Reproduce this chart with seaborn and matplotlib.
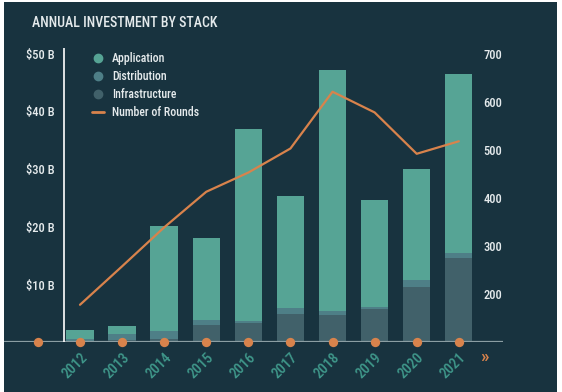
import matplotlib.pyplot as plt
import pandas as pd
import seaborn as sns
from matplotlib.lines import Line2D
from matplotlib.patches import Rectangle

# Investment by stack, in $B
years = [2012, 2013, 2014, 2015, 2016, 2017, 2018, 2019, 2020, 2021]
infrastructure = [0.1, 0.4, 0.6, 3.0, 3.3, 4.9, 4.8, 5.8, 9.5, 14.6]
distribution = [0.4, 1.0, 1.4, 0.9, 0.4, 1.1, 0.7, 0.4, 1.3, 0.9]
application = [1.6, 1.5, 18.2, 14.1, 33.3, 19.4, 41.7, 18.5, 19.3, 31.0]
rounds = [178, 258, 339, 413, 453, 503, 621, 578, 492, 518]

left_ticks = [10, 20, 30, 40, 50]
left_labels = ["$10 B", "$20 B", "$30 B", "$40 B", "$50 B"]
right_ticks = [200, 300, 400, 500, 600, 700]

bg = "#18333f"
app_color = "#56a495"
dist_color = "#4e7f87"
infra_color = "#41616a"
orange = "#d8834c"
teal_text = "#3f978a"
light = "#e4eaec"

sns.set_theme(style="white")
plt.rcParams["font.family"] = ["Roboto Condensed", "Roboto", "DejaVu Sans"]
plt.rcParams["font.weight"] = "medium"

df = pd.DataFrame({
    "year": years,
    "infra": infrastructure,
    "dist": distribution,
    "app": application,
    "rounds": rounds,
})
df["dist_top"] = df["infra"] + df["dist"]
df["total"] = df["dist_top"] + df["app"]

fig = plt.figure(figsize=(5.62, 3.92), dpi=100, facecolor="white")
fig.patches.append(Rectangle((4 / 562, 0), 553 / 562, 1 - 2 / 392,
                             transform=fig.transFigure, facecolor=bg,
                             edgecolor="none", zorder=-10))

ax = fig.add_axes([0.0064, 0.1268, 0.8886, 0.7508])
ax.set_facecolor("none")

# stacked bars drawn as overlapping cumulative totals
for col, c in [("total", app_color), ("dist_top", dist_color), ("infra", infra_color)]:
    sns.barplot(data=df, x="year", y=col, native_scale=True, color=c,
                saturation=1, width=0.65, linewidth=0, errorbar=None, ax=ax)

ax.axhline(0, color="#8b9ea3", lw=1.6, zorder=3)
ax.axvline(years[0] - 0.38, ymin=0, ymax=1, color="white", lw=1.2, zorder=3)

dots = pd.DataFrame({"year": [years[0] - 1] + years})
dots["y"] = 0
sns.scatterplot(data=dots, x="year", y="y", color=orange, s=45, linewidth=0,
                zorder=6, clip_on=False, ax=ax)

ax.set_xlim(years[0] - 1.815, years[-1] + 1.05)
ax.set_ylim(0, 51)
ax.set_xticks(years)
ax.set_xticklabels([str(y) for y in years], rotation=45, ha="right",
                   rotation_mode="anchor", fontsize=10.5, color=teal_text)
ax.set_yticks(left_ticks)
ax.set_yticklabels(left_labels, fontsize=9, color=light)
ax.tick_params(axis="x", length=0, pad=6)
ax.tick_params(axis="y", length=0, pad=-37)
ax.set_xlabel("")
ax.set_ylabel("")
for s in ax.spines.values():
    s.set_visible(False)

ax2 = ax.twinx()
sns.lineplot(data=df, x="year", y="rounds", color=orange, linewidth=1.6, ax=ax2)
ax2.set_ylim(100, 712)
ax2.set_yticks(right_ticks)
ax2.set_yticklabels([str(t) for t in right_ticks], fontsize=9, color=light)
ax2.tick_params(axis="y", length=0, pad=-14)
ax2.set_ylabel("")
for s in ax2.spines.values():
    s.set_visible(False)
ax.set_xlim(years[0] - 1.815, years[-1] + 1.05)

ax.text(years[-1] + 0.6, -0.05, "\u00bb", transform=ax.get_xaxis_transform(),
        color=orange, fontsize=14, ha="center", va="center")

fig.text(32 / 562, 1 - 23 / 392, "ANNUAL INVESTMENT BY STACK",
         fontsize=10, color=light, va="center")

handles = [
    Line2D([], [], marker="o", ls="", color=app_color, markersize=6),
    Line2D([], [], marker="o", ls="", color=dist_color, markersize=6),
    Line2D([], [], marker="o", ls="", color=infra_color, markersize=6),
    Line2D([], [], color=orange, lw=2),
]
leg = ax.legend(handles, ["Application", "Distribution", "Infrastructure", "Number of Rounds"],
                loc="upper left", bbox_to_anchor=(86 / 562, 1 - 46 / 392),
                bbox_transform=fig.transFigure, frameon=False, fontsize=8.5,
                handlelength=1.0, handletextpad=0.7, labelspacing=0.42,
                borderpad=0, labelcolor=light)

fig.savefig("out.png", dpi=100, facecolor=fig.get_facecolor())
